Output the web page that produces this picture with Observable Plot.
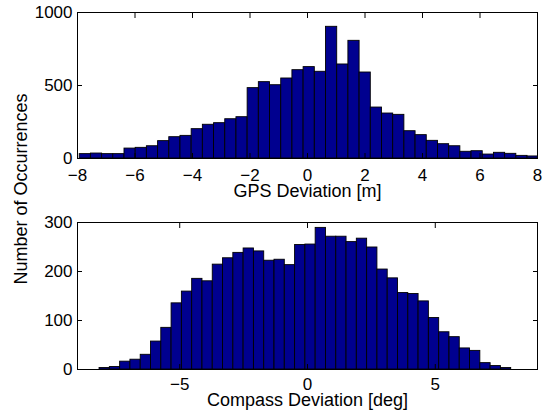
<!DOCTYPE html>
<html><head><meta charset="utf-8">
<script src="https://cdn.jsdelivr.net/npm/d3@7"></script>
<script src="https://cdn.jsdelivr.net/npm/@observablehq/plot@0.6"></script>
<style>
body{margin:0;background:#fff;}
#wrap{position:relative;width:551px;height:414px;font-family:"Liberation Sans",Arial,Helvetica,sans-serif;}
#wrap svg{display:block;}
#ylab{position:absolute;left:21px;top:188.5px;transform:translate(-50%,-50%) rotate(-90deg);white-space:nowrap;font-size:18px;color:#000;}
</style>
</head><body><div id="wrap"><div id="ylab">Number of Occurrences</div></div>
<script>
// GPS deviation histogram (41 bins)
const gpsCounts = [30, 34, 30, 30, 68, 73, 84, 119, 146, 155, 201, 231, 242, 269, 283, 482, 523, 502, 548, 605, 626, 594, 902, 644, 806, 589, 349, 308, 299, 187, 160, 121, 98, 84, 46, 50, 27, 39, 32, 18, 14];
const gpsBinStart = -7.923;
const gpsBinWidth = 0.3894;
const gpsXTicks = [-8, -6, -4, -2, 0, 2, 4, 6, 8];
const gpsYTicks = [0, 500, 1000];
const gpsLabel = "GPS Deviation [m]";

// Compass deviation histogram (40 bins)
const compassCounts = [3, 5, 16, 20, 30, 57, 85, 135, 159, 185, 180, 214, 227, 238, 247, 241, 222, 224, 213, 254, 255, 289, 271, 271, 260, 267, 249, 204, 186, 156, 154, 139, 105, 76, 66, 43, 38, 13, 7, 3];
const compassBinStart = -8.137;
const compassBinWidth = 0.4027;
const compassXTicks = [-5, 0, 5];
const compassYTicks = [0, 100, 200, 300];
const compassLabel = "Compass Deviation [deg]";

const yAxisLabel = "Number of Occurrences";
document.getElementById("ylab").textContent = yAxisLabel;

const fmt = d => d < 0 ? "\u2212" + Math.abs(d) : String(d);

function hist({counts, start, width, xDomain, yDomain, xTicks, yTicks, label, height, marginTop, marginBottom, tickPad, labelDy}) {
  const bins = counts.map((c, i) => ({x1: start + i * width, x2: start + (i + 1) * width, count: c}));
  return Plot.plot({
    width: 551, height, marginTop, marginBottom, marginLeft: 77, marginRight: 14,
    style: {fontFamily: '"Liberation Sans", Arial, Helvetica, sans-serif', fontSize: "17px", color: "#000", background: "#fff"},
    x: {domain: xDomain},
    y: {domain: yDomain},
    marks: [
      Plot.rectY(bins, {x1: "x1", x2: "x2", y: "count", fill: "#00008F", stroke: "#000", strokeWidth: 0.9, inset: 0, clip: true}),
      Plot.frame({stroke: "#000", strokeWidth: 1}),
      Plot.axisX({ticks: xTicks, tickSize: 0, tickPadding: tickPad, tickFormat: fmt, label: null, fontSize: 17}),
      Plot.axisX({ticks: xTicks, anchor: "bottom", tickSize: -5, text: null, label: null}),
      Plot.axisX({ticks: xTicks, anchor: "top", tickSize: -5, text: null, label: null}),
      Plot.axisY({ticks: yTicks, anchor: "left", tickSize: 0, tickPadding: 5, tickFormat: fmt, label: null, fontSize: 17}),
      Plot.axisY({ticks: yTicks, anchor: "left", tickSize: -5, text: null, label: null}),
      Plot.axisY({ticks: yTicks, anchor: "right", tickSize: -5, text: null, label: null}),
      Plot.text([label], {frameAnchor: "bottom", dy: labelDy, fontSize: 18, fill: "#000"})
    ]
  });
}

const wrap = document.getElementById("wrap");
wrap.appendChild(hist({counts: gpsCounts, start: gpsBinStart, width: gpsBinWidth, xDomain: [-8, 8], yDomain: [0, 1000],
  xTicks: gpsXTicks, yTicks: gpsYTicks, label: gpsLabel, height: 205, marginTop: 12, marginBottom: 47, tickPad: 10, labelDy: 38}));
wrap.appendChild(hist({counts: compassCounts, start: compassBinStart, width: compassBinWidth, xDomain: [-9, 9], yDomain: [0, 300],
  xTicks: compassXTicks, yTicks: compassYTicks, label: compassLabel, height: 209, marginTop: 17, marginBottom: 45, tickPad: 8, labelDy: 36}));
</script>
</body></html>
